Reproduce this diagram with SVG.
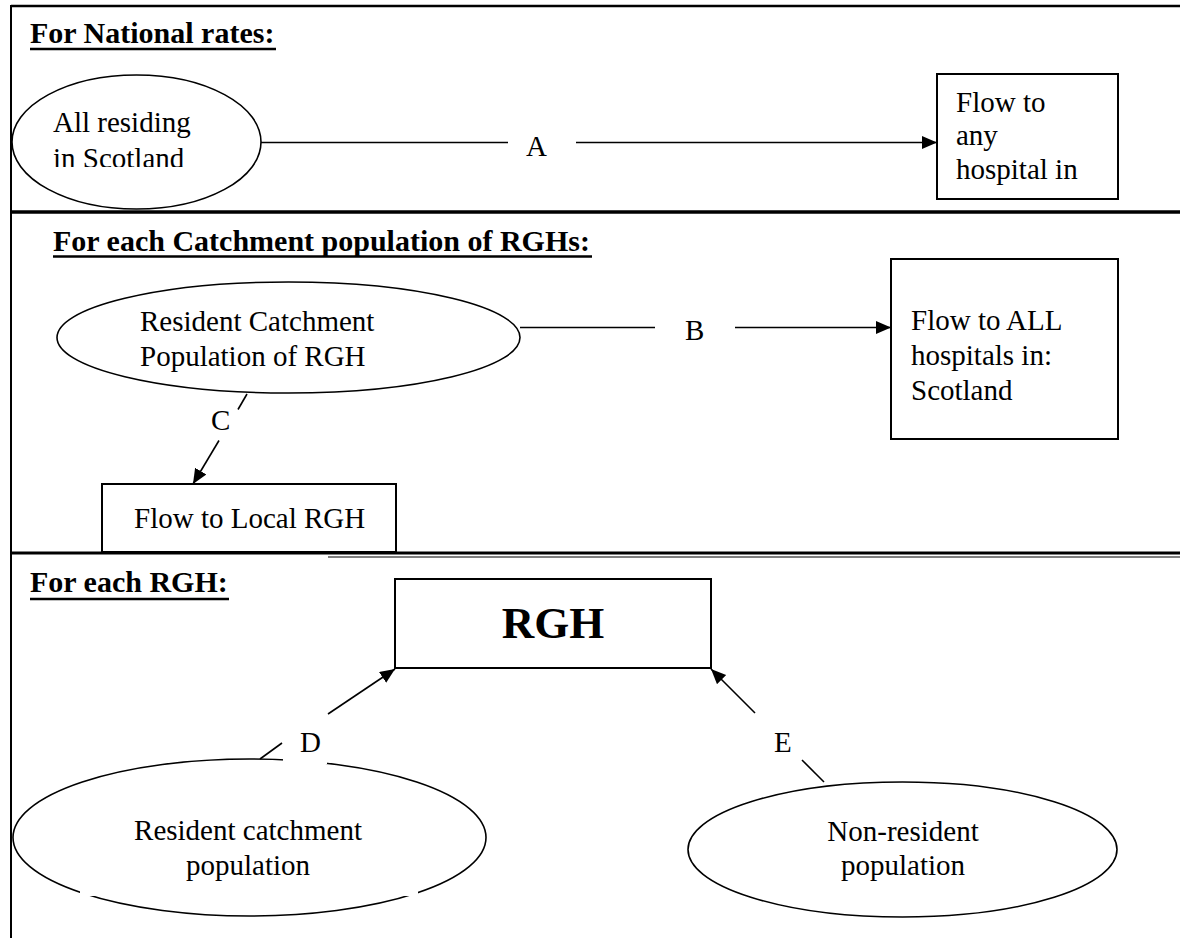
<svg xmlns="http://www.w3.org/2000/svg" width="1180" height="938" viewBox="0 0 1180 938">
<style>
.t{font-family:"Liberation Serif","Times New Roman",serif;font-size:29px;fill:#000}
.h{font-weight:bold;font-size:30px}
.s{fill:none;stroke:#000;stroke-width:1.6}
.b{fill:#fff;stroke:#000;stroke-width:2}
.e{fill:#fff;stroke:#000;stroke-width:1.6}
.u{stroke:#000;stroke-width:2.5}
</style>
<defs>
<marker id="arr" markerUnits="userSpaceOnUse" markerWidth="16" markerHeight="14" refX="15" refY="6.5" orient="auto">
<path d="M0,0 L15,6.5 L0,13 z" fill="#000"/>
</marker>
<clipPath id="clip1"><rect x="0" y="0" width="1180" height="167"/></clipPath>
</defs>
<rect x="0" y="0" width="1180" height="938" fill="#fff"/>

<g id="frame">
<line x1="11" y1="6" x2="1180" y2="6" stroke="#000" stroke-width="2.5"/>
<line x1="11" y1="5" x2="11" y2="938" stroke="#000" stroke-width="2"/>
<line x1="11" y1="212" x2="1180" y2="212" stroke="#000" stroke-width="3.5"/>
<line x1="11" y1="553" x2="1180" y2="553" stroke="#000" stroke-width="3"/>
<line x1="328" y1="557" x2="1180" y2="557" stroke="#555" stroke-width="1.5"/>
</g>

<g id="headers">
<text class="t h" x="30" y="43">For National rates:</text>
<line class="u" x1="30" y1="49" x2="276" y2="49"/>
<text class="t h" x="53" y="251">For each Catchment population of RGHs:</text>
<line class="u" x1="53" y1="256.5" x2="592" y2="256.5"/>
<text class="t h" x="30" y="592">For each RGH:</text>
<line class="u" x1="30" y1="599" x2="229" y2="599"/>
</g>

<g id="node-all-scotland">
<ellipse class="e" cx="136.5" cy="142" rx="124.5" ry="67"/>
<g clip-path="url(#clip1)">
<text class="t" x="53" y="132">All residing</text>
<text class="t" x="53" y="168">in Scotland</text>
</g>
</g>

<g id="node-flow-any">
<rect class="b" x="937" y="74" width="181" height="125"/>
<text class="t" x="956" y="112">Flow to</text>
<text class="t" x="956" y="145">any</text>
<text class="t" x="956" y="179">hospital in</text>
</g>

<g id="node-resident-catchment-rgh">
<ellipse class="e" cx="288.5" cy="337.5" rx="231.5" ry="55.5"/>
<text class="t" x="140" y="331">Resident Catchment</text>
<text class="t" x="140" y="366">Population of RGH</text>
</g>

<g id="node-flow-all">
<rect class="b" x="891" y="259" width="227" height="180"/>
<text class="t" x="911" y="330">Flow to ALL</text>
<text class="t" x="911" y="365">hospitals in:</text>
<text class="t" x="911" y="400">Scotland</text>
</g>

<g id="node-flow-local">
<rect class="b" x="102" y="484" width="294" height="68"/>
<text class="t" x="134" y="528">Flow to Local RGH</text>
</g>

<g id="node-rgh">
<rect class="b" x="395" y="579" width="316" height="89"/>
<text class="t" x="553" y="638" text-anchor="middle" style="font-weight:bold;font-size:45px">RGH</text>
</g>

<g id="node-resident-catchment">
<ellipse class="e" cx="249.5" cy="837.5" rx="236.5" ry="78.5"/>
<rect x="80" y="800" width="338" height="96" fill="#fff"/>
<text class="t" x="248" y="840" text-anchor="middle">Resident catchment</text>
<text class="t" x="248" y="875" text-anchor="middle">population</text>
</g>

<g id="node-non-resident">
<ellipse class="e" cx="902.5" cy="849.5" rx="214.5" ry="67.5"/>
<text class="t" x="903" y="841" text-anchor="middle">Non-resident</text>
<text class="t" x="903" y="875" text-anchor="middle">population</text>
</g>

<g id="connectors">
<line class="s" x1="261" y1="142.5" x2="508" y2="142.5"/>
<line class="s" x1="576" y1="142.5" x2="937" y2="142.5" marker-end="url(#arr)"/>
<text class="t" x="526" y="156">A</text>

<line class="s" x1="520" y1="327.5" x2="655" y2="327.5"/>
<line class="s" x1="735" y1="327.5" x2="891" y2="327.5" marker-end="url(#arr)"/>
<text class="t" x="685" y="340">B</text>

<line class="s" x1="247" y1="394" x2="238" y2="409.5"/>
<line class="s" x1="219" y1="440.5" x2="193" y2="484" marker-end="url(#arr)"/>
<text class="t" x="211" y="430">C</text>

<rect x="283" y="738" width="44" height="26" fill="#fff"/>
<line class="s" x1="260" y1="759" x2="282" y2="743"/>
<line class="s" x1="328" y1="714" x2="395" y2="669" marker-end="url(#arr)"/>
<text class="t" x="300" y="752">D</text>

<line class="s" x1="824" y1="782" x2="802" y2="760"/>
<line class="s" x1="755" y1="713" x2="711" y2="669" marker-end="url(#arr)"/>
<text class="t" x="774" y="752">E</text>
</g>
</svg>
